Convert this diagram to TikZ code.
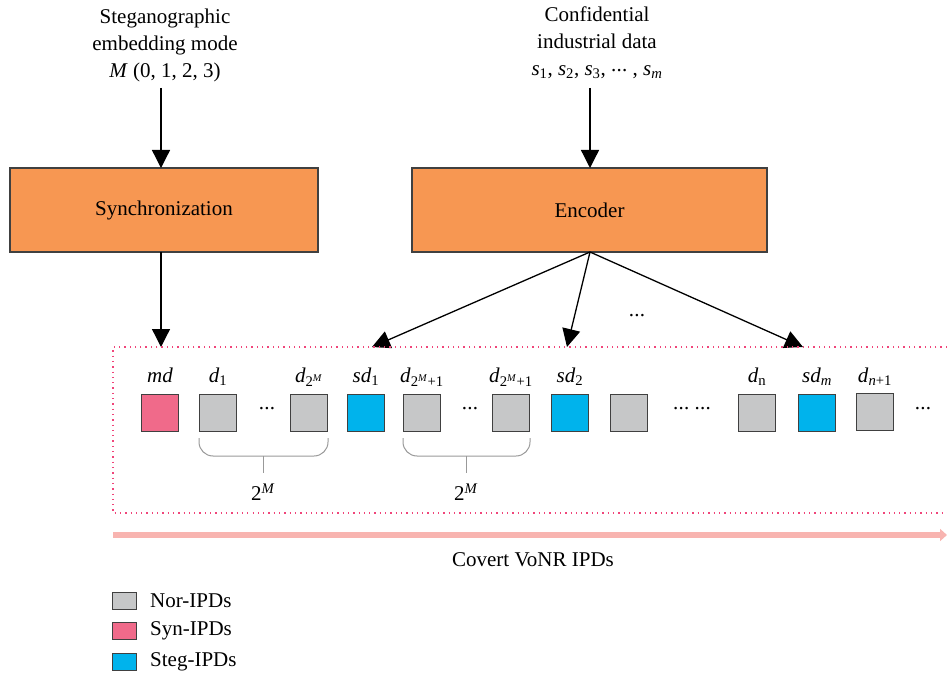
\documentclass[tikz,border=0pt]{standalone}
\usepackage{fontspec}
\setmainfont{Liberation Serif}
\usetikzlibrary{arrows.meta}
\definecolor{orangebox}{HTML}{F79752}
\definecolor{synpink}{HTML}{F06A8A}
\definecolor{stegblue}{HTML}{00B3EC}
\definecolor{norgray}{HTML}{C6C7C8}
\definecolor{framepink}{HTML}{F0457A}
\definecolor{flowpink}{HTML}{F8B4B0}
\definecolor{edgegray}{HTML}{404040}
\newcommand{\vi}[1]{\textit{#1}}
\newcommand{\sbs}[1]{\textsubscript{#1}}
\newcommand{\sps}[1]{\textsuperscript{#1}}
\newcommand{\cdt}{\raisebox{0.2em}{.\kern0.3pt.\kern0.3pt.}}
\begin{document}
\begin{tikzpicture}[x=1pt,y=-1pt,
  every node/.style={font=\fontsize{21}{27}\selectfont, inner sep=0pt},
  block/.style={draw=edgegray, line width=1.2pt, fill=orangebox, minimum width=#1, minimum height=84pt},
  cell/.style={draw=edgegray, line width=1.2pt, minimum width=37pt, minimum height=37pt},
  legcell/.style={draw=edgegray, line width=1pt, minimum width=24pt, minimum height=17pt},
  arr/.style={line width=1.3pt, -{Triangle[length=18pt,width=18pt]}},
  bracestyle/.style={draw=gray!80, line width=1pt, rounded corners=14pt},
  lab/.style={anchor=base}
]
\useasboundingbox (0,0) rectangle (947,676);

% top texts
\node[align=center] (mtxt) at (165,45) {Steganographic\\embedding mode\\\vi{M} (0, 1, 2, 3)};
\node[align=center] (stxt) at (597,43) {Confidential\\industrial data\\\vi{s}\sbs{1}, \vi{s}\sbs{2}, \vi{s}\sbs{3}, \cdt\ , \vi{s}\sbs{\vi{m}}};

% boxes
\node[block=308pt] (sync) at (164,210) {Synchronization};
\node[block=355pt] (enc) at (589.5,210) {Encoder};

\coordinate (mtop) at (161,88);
\coordinate (mbot) at (161,168);
\coordinate (stop) at (590,88);
\coordinate (sbot) at (590,168);
\draw[arr] (mtop) -- (mbot);
\draw[arr] (stop) -- (sbot);

\coordinate (syncout) at (161,252);
\coordinate (mdin) at (161,347);
\draw[arr] (syncout) -- (mdin);

\coordinate (encout) at (590,252);
\coordinate (t1) at (372,347);
\coordinate (t2) at (567,347);
\coordinate (t3) at (803,347);
\draw[arr] (encout) -- (t1);
\draw[arr] (encout) -- (t2);
\draw[arr] (encout) -- (t3);
\node (edots) at (637,318) {\cdt};

% dotted frame
\coordinate (fa) at (947,347);
\coordinate (fb) at (113,347);
\coordinate (fc) at (113,513);
\coordinate (fd) at (947,513);
\draw[framepink, line width=1.3pt, dash pattern=on 1.3pt off 4pt] (fa) -- (fb) -- (fc) -- (fd);

% cells
\node[cell, fill=synpink] (md) at (160,413) {};
\node[cell, fill=norgray] (c1) at (218,413) {};
\node (dots1) at (267,411) {\cdt};
\node[cell, fill=norgray] (c2) at (309,413) {};
\node[cell, fill=stegblue] (sd1) at (366,413) {};
\node[cell, fill=norgray] (c3) at (422,413) {};
\node (dots2) at (470,411) {\cdt};
\node[cell, fill=norgray] (c4) at (511,413) {};
\node[cell, fill=stegblue] (sd2) at (570,413) {};
\node[cell, fill=norgray] (c5) at (629,413) {};
\node (dots3) at (692,411) {\cdt\ \cdt};
\node[cell, fill=norgray] (c6) at (757,413) {};
\node[cell, fill=stegblue] (sdm) at (817,413) {};
\node[cell, fill=norgray] (c7) at (875,412) {};
\node (dots4) at (923,411) {\cdt};

% labels
\node[lab] (lmd) at (160,382) {\vi{md}};
\node[lab] (l1) at (218,382) {\vi{d}\sbs{1}};
\node[lab] (l2) at (309,382) {\vi{d}\sbs{2\sps{\vi{M}}}};
\node[lab] (l3) at (366,382) {\vi{sd}\sbs{1}};
\node[lab] (l4) at (422,382) {\vi{d}\sbs{2\sps{\vi{M}}+1}};
\node[lab] (l5) at (511,382) {\vi{d}\sbs{2\sps{\vi{M}}+1}};
\node[lab] (l6) at (570,382) {\vi{sd}\sbs{2}};
\node[lab] (l7) at (757,382) {\vi{d}\sbs{n}};
\node[lab] (l8) at (817,382) {\vi{sd}\sbs{\vi{m}}};
\node[lab] (l9) at (875,382) {\vi{d}\sbs{\vi{n}+1}};

% braces
\draw[bracestyle] (199,438) -- (199,456) -- (328,456) -- (328,438);
\coordinate (b1a) at (263,456);
\coordinate (b1b) at (263,473);
\draw[draw=gray!80, line width=1pt] (b1a) -- (b1b);
\node (b1) at (263,492) {2\sps{\vi{M}}};
\draw[bracestyle] (403,438) -- (403,456) -- (530,456) -- (530,438);
\coordinate (b2a) at (466,456);
\coordinate (b2b) at (466,473);
\draw[draw=gray!80, line width=1pt] (b2a) -- (b2b);
\node (b2) at (466,492) {2\sps{\vi{M}}};

% flow arrow
\coordinate (fl1) at (113,535);
\coordinate (fl2) at (947,535);
\draw[flowpink, line width=6pt, -{Triangle[length=7pt,width=12pt]}] (fl1) -- (fl2);
\node (flow) at (533,560) {Covert VoNR IPDs};

% legend
\node[legcell, fill=norgray] (g1) at (124,601) {};
\node[anchor=west] (g1t) at (150,601) {Nor-IPDs};
\node[legcell, fill=synpink] (g2) at (124,631) {};
\node[anchor=west] (g2t) at (150,631) {Syn-IPDs};
\node[legcell, fill=stegblue] (g3) at (124,662) {};
\node[anchor=west] (g3t) at (150,662) {Steg-IPDs};
\end{tikzpicture}
\end{document}
